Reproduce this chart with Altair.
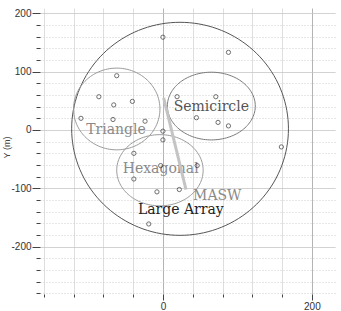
import altair as alt
import numpy as np
import pandas as pd

# --- data ---
pt_x = [0, 88, -62, -86, -66, -41, -110, -67, -24, 0, 0, 19, 71, 45, 74, 88,
        159, -39, -3, 46, -39, -8, 22, -19]
pt_y = [159, 133, 93, 57, 43, 49, 20, 18, 15, -2, -17, 57, 57, 21, 13, 7,
        -29, -40, -61, -61, -84, -106, -102, -161]

ell_names = ["Large Array", "Triangle", "Semicircle", "Hexagonal"]
ell_cx = [23, -62, 65, -4]
ell_cy = [2, 36, 41, -69]
ell_rx = [145.5, 58, 59, 58]
ell_ry = [182.5, 70, 58, 61]

masw_x = [1, 31]
masw_y = [55, -102]

label_text = ["Semicircle", "Triangle", "Hexagonal", "MASW", "Large Array"]
label_x = [65, -63, -3, 73, 24]
label_y = [39, 0, -66, -113, -137]

x_ticks = list(range(-160, 201, 40))
y_ticks = list(range(-280, 201, 20))

# --- tables ---
pts = pd.DataFrame({"x": pt_x, "y": pt_y})

theta = np.linspace(0, 2 * np.pi, 145)
rows = []
for n, cx, cy, rx, ry in zip(ell_names, ell_cx, ell_cy, ell_rx, ell_ry):
    for i, t in enumerate(theta):
        rows.append({"name": n, "i": i, "x": cx + rx * np.cos(t), "y": cy + ry * np.sin(t)})
ell = pd.DataFrame(rows)

masw = pd.DataFrame({"x": masw_x, "y": masw_y, "i": [0, 1]})
labels = pd.DataFrame({"label": label_text, "x": label_x, "y": label_y})

xs = alt.Scale(domain=[-165, 231], nice=False, zero=False)
ys = alt.Scale(domain=[-281, 209], nice=False, zero=False)

is_x_major = "datum.value === 0 || datum.value === 200"
is_y_major = "datum.value % 100 === 0"

x_axis = alt.Axis(
    values=x_ticks, grid=True, domain=False, title=None,
    labelExpr=f"({is_x_major}) ? '' + datum.value : ''",
    tickSize={"condition": {"test": is_x_major, "value": 6}, "value": 3},
    tickColor="#444",
    gridColor={"condition": {"test": is_x_major, "value": "#b4b4b4"}, "value": "#dedede"},
    labelFont="Liberation Sans", labelFontSize=10, labelColor="#333",
    labelPadding=1, labelFlush=False, labelOverlap=False,
)
y_axis = alt.Axis(
    values=y_ticks, grid=True, domain=False,
    labelExpr=f"({is_y_major}) ? '' + datum.value : ''",
    tickSize={"condition": {"test": is_y_major, "value": 8}, "value": 4},
    tickColor="#444",
    gridColor={"condition": {"test": is_y_major, "value": "#c4c4c4"}, "value": "#cfcfcf"},
    gridDash={"condition": {"test": is_y_major, "value": [1, 0]}, "value": [1, 2]},
    labelFont="Liberation Sans", labelFontSize=10, labelColor="#333",
    labelPadding=1, labelFlush=False, labelOverlap=False,
    title="Y (m)", titleFont="Liberation Sans", titleFontSize=9,
    titleFontWeight="normal", titleColor="#444",
    titleX=-34, titleY=139, titleAlign="center", titleBaseline="middle",
)

X = alt.X("x:Q", scale=xs, axis=x_axis)
Y = alt.Y("y:Q", scale=ys, axis=y_axis)

ellipses = alt.Chart(ell).mark_line(strokeWidth=1).encode(
    x=X, y=Y, detail="name:N", order="i:Q",
    color=alt.Color("name:N", legend=None,
                    scale=alt.Scale(domain=ell_names,
                                    range=["#555555", "#9a9a9a", "#7a7a7a", "#9a9a9a"])),
)

texts = alt.Chart(labels).mark_text(font="DejaVu Serif", fontSize=14,
                                   align="center", baseline="middle").encode(
    x=X, y=Y, text="label:N",
    color=alt.Color("label:N", legend=None,
                    scale=alt.Scale(domain=label_text,
                                    range=["#555555", "#8a8a8a", "#8a8a8a", "#8a8a8a", "#222222"])),
)

line = alt.Chart(masw).mark_line(strokeWidth=3, color="#c4c4c4").encode(
    x=X, y=Y, order="i:Q")

points = alt.Chart(pts).mark_point(shape="circle", filled=False, size=18,
                                   strokeWidth=1, color="#333").encode(x=X, y=Y)

chart = alt.layer(ellipses, texts, line, points).resolve_scale(color="independent").properties(
    width=295, height=286,
    autosize=alt.AutoSizeParams(type="none"),
    padding={"left": 40, "top": 8, "right": 6, "bottom": 17},
).configure_view(stroke=None)

chart.save("out.html", embed_options={"renderer": "svg", "actions": False})
